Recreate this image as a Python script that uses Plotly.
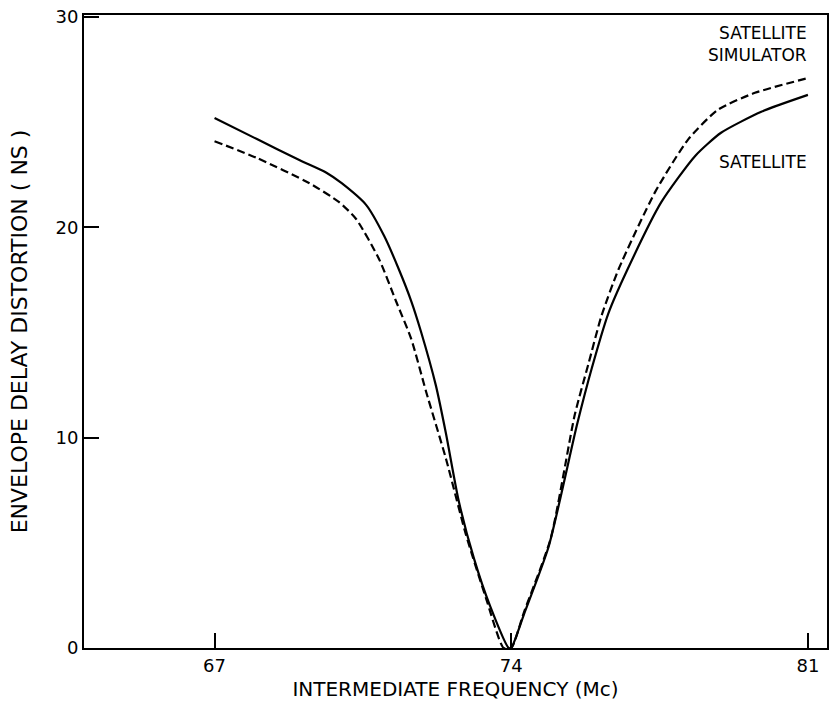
import plotly.graph_objects as go

# Envelope delay distortion vs intermediate frequency
sat_freq = [67.0, 68.0, 69.0, 69.64, 70.0, 70.58, 71.0, 71.35, 71.64, 71.87, 72.22, 72.46,
            72.76, 73.12, 73.5, 73.94, 74.0, 74.3, 74.88, 75.55, 75.9, 76.29, 76.72,
            77.54, 78.34, 78.95, 79.9, 81.0]
sat_delay = [25.2, 24.2, 23.2, 22.6, 22.1, 21.06, 19.6, 18.0, 16.5, 15.05, 12.5, 10.2,
             7.0, 4.26, 2.0, 0.0, 0.0, 1.6, 4.8, 10.6, 13.3, 15.9, 17.9,
             21.2, 23.4, 24.5, 25.5, 26.3]

sim_freq = [67.0, 68.0, 69.24, 69.94, 70.34, 70.88, 71.28, 71.64, 71.99, 72.46, 72.93,
            73.4, 73.82, 74.0, 74.3, 74.93, 75.5, 75.82, 76.13, 76.53, 77.4, 78.18,
            78.88, 79.75, 81.0]
sim_delay = [24.1, 23.3, 22.1, 21.2, 20.4, 18.5, 16.5, 14.7, 12.2, 9.0, 5.4,
             2.4, 0.0, 0.0, 1.7, 5.2, 11.1, 13.5, 15.8, 18.0, 21.7, 24.2,
             25.6, 26.4, 27.1]

x_ticks = [67, 74, 81]
y_ticks = [0, 10, 20, 30]

FONT = "'DejaVu Sans', sans-serif"

fig = go.Figure()
fig.add_trace(go.Scatter(x=sat_freq, y=sat_delay, mode="lines",
                         line=dict(color="black", width=2.2, shape="spline", smoothing=0.6),
                         name="SATELLITE", showlegend=False))
fig.add_trace(go.Scatter(x=sim_freq, y=sim_delay, mode="lines",
                         line=dict(color="black", width=2.2, dash="8px,4px",
                                   shape="spline", smoothing=0.6),
                         name="SATELLITE SIMULATOR", showlegend=False))

fig.add_annotation(x=81.02, y=28.7, xref="x", yref="y", text="SATELLITE<br>SIMULATOR",
                   showarrow=False, xanchor="right", yanchor="middle", align="right",
                   font=dict(family=FONT, size=17, color="black"))
fig.add_annotation(x=81.02, y=23.1, xref="x", yref="y", text="SATELLITE",
                   showarrow=False, xanchor="right", yanchor="middle", align="right",
                   font=dict(family=FONT, size=17, color="black"))

axis_common = dict(showgrid=False, zeroline=False, showline=True, linecolor="black",
                   linewidth=2, mirror=True, ticks="inside", ticklen=15, tickwidth=1.5,
                   tickcolor="black", tickfont=dict(family=FONT, size=18, color="black"))

fig.update_xaxes(range=[63.92, 81.45], tickvals=x_ticks,
                 ticktext=[str(v) for v in x_ticks],
                 title=dict(text="INTERMEDIATE FREQUENCY (Mc)", standoff=7,
                            font=dict(family=FONT, size=20, color="black")),
                 **axis_common)
fig.update_yaxes(range=[0, 30.1], tickvals=y_ticks,
                 ticktext=[str(v) for v in y_ticks],
                 title=dict(text="ENVELOPE DELAY DISTORTION ( NS )", standoff=22,
                            font=dict(family=FONT, size=22, color="black")),
                 **axis_common)

fig.update_layout(width=835, height=709, margin=dict(l=84, r=6, t=13, b=61),
                  plot_bgcolor="white", paper_bgcolor="white")

fig.write_html("out.html")
